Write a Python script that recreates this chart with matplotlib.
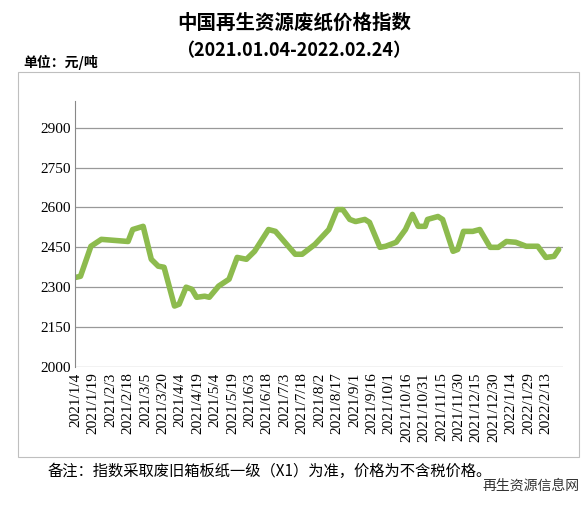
import matplotlib
matplotlib.use("Agg")
import matplotlib.pyplot as plt
import pandas as pd

plt.rcParams['font.family'] = ['Noto Sans CJK SC', 'DejaVu Sans']

start = pd.Timestamp("2021-01-04")
day_offsets = [0,4,13,22,45,49,58,65,71,76,85,89,95,100,104,111,115,123,132,139,147,154,166,172,
               189,195,206,218,225,230,236,241,249,253,262,267,276,284,290,295,301,303,312,316,
               325,329,334,342,348,357,364,371,379,388,398,405,412,416]
values = [2337,2341,2454,2480,2472,2517,2529,2405,2379,2375,2229,2236,2300,2292,2262,2266,2262,2304,
          2330,2412,2405,2435,2517,2510,2424,2424,2461,2517,2592,2592,2555,2547,2555,2544,2450,2454,
          2469,2517,2574,2529,2529,2555,2566,2555,2435,2442,2510,2510,2517,2450,2450,2472,2469,2454,
          2454,2412,2416,2442]
yticks = [2000,2150,2300,2450,2600,2750,2900]

dates = [start + pd.Timedelta(days=d) for d in day_offsets]
tick_dates = pd.date_range("2021-01-04", "2022-02-13", freq="15D")
tick_labels = [f"{d.year}/{d.month}/{d.day}" for d in tick_dates]

fig = plt.figure(figsize=(5.88, 5.11), dpi=100)
fig.patches.append(plt.Rectangle((0.03, 0.105), 0.955, 0.755, transform=fig.transFigure,
                                 fill=False, edgecolor='#bfbfbf', lw=0.8))
ax = fig.add_axes([0.128, 0.282, 0.83, 0.52])
ax.plot(dates, values, color='#8dbb4e', lw=4, solid_capstyle='round', solid_joinstyle='round')
ax.set_ylim(2000, 3000)
ax.set_yticks(yticks)
ax.set_yticklabels([str(v) for v in yticks], family=['Liberation Serif'], fontsize=11)
ax.set_xlim(start - pd.Timedelta(days=0.5), pd.Timestamp("2022-02-28"))
ax.set_xticks(tick_dates)
ax.set_xticklabels(tick_labels, rotation=90, fontsize=11, family=['Liberation Serif'])
ax.tick_params(axis='y', length=0)
ax.tick_params(axis='x', length=0, pad=4)
ax.grid(axis='y', color='#999999', lw=0.9)
for s in ['top', 'right', 'bottom']:
    ax.spines[s].set_visible(False)
ax.spines['left'].set_color('#888888')

fig.text(0.5, 0.955, "中国再生资源废纸价格指数", ha='center', va='center', fontsize=14, fontweight='bold')
fig.text(0.5, 0.9, "（2021.01.04-2022.02.24）", ha='center', va='center', fontsize=13, fontweight='bold')
fig.text(0.04, 0.878, "单位：元/吨", ha='left', va='center', fontsize=10, fontweight='bold')
fig.text(0.08, 0.077, "备注：指数采取废旧箱板纸一级（X1）为准，价格为不含税价格。", ha='left', va='center', fontsize=11)
fig.text(0.985, 0.05, "再生资源信息网", ha='right', va='center', fontsize=10, color='#333333')
fig.savefig("out.png", dpi=100)
